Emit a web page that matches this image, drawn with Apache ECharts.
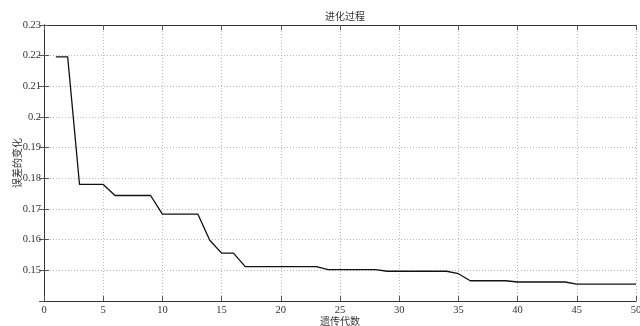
<!DOCTYPE html>
<html>
<head>
<meta charset="utf-8">
<script src="https://cdn.jsdelivr.net/npm/echarts@6/dist/echarts.min.js"></script>
<style>html,body{margin:0;padding:0;background:#fff}#c{width:640px;height:326px}</style>
</head>
<body>
<div id="c"></div>
<script>
const titleText = '进化过程';
const xName = '遗传代数';
const yName = '误差的变化';
const generations = [1,2,3,4,5,6,7,8,9,10,11,12,13,14,15,16,17,18,19,20,21,22,23,24,25,26,27,28,29,30,31,32,33,34,35,36,37,38,39,40,41,42,43,44,45,46,47,48,49,50];
const errorValues = [
  0.2196,0.2196,0.1780,0.1780,0.1780,0.1744,0.1744,0.1744,0.1744,0.1683,
  0.1683,0.1683,0.1683,0.1598,0.1556,0.1556,0.1512,0.1512,0.1512,0.1512,
  0.1512,0.1512,0.1512,0.1502,0.1502,0.1502,0.1502,0.1502,0.1497,0.1497,
  0.1497,0.1497,0.1497,0.1497,0.1489,0.1466,0.1466,0.1466,0.1466,0.1462,
  0.1462,0.1462,0.1462,0.1462,0.1455,0.1455,0.1455,0.1455,0.1455,0.1455
];
const xMin = 0, xMax = 50, xStep = 5;
const yMin = 0.14, yMax = 0.23, yStep = 0.01;

const serif = 'Liberation Serif';
const cjk = 'Noto Sans CJK SC';
const axisColor = '#333';

const chart = echarts.init(document.getElementById('c'), null, {renderer: 'canvas'});
const tickStyle = {show: true, inside: true, length: 5, lineStyle: {color: '#555', width: 1}};
const split = {show: true, lineStyle: {type: [1, 2], color: '#b8b8b8', width: 1}};
chart.setOption({
  animation: false,
  backgroundColor: '#fff',
  title: {
    text: titleText, left: 340, top: 6, textAlign: 'center',
    textStyle: {fontFamily: cjk, fontSize: 10, fontWeight: 'normal', color: '#333'}
  },
  grid: {left: 44, right: 4, top: 25, bottom: 25, containLabel: false, outerBoundsMode: 'none'},
  xAxis: [{
    type: 'value', min: xMin, max: xMax, interval: xStep,
    name: xName, nameLocation: 'middle', nameGap: 15, nameMoveOverlap: false,
    nameTextStyle: {fontFamily: cjk, fontSize: 10, color: '#333'},
    axisLine: {show: true, lineStyle: {color: axisColor, width: 1}},
    axisTick: tickStyle,
    axisLabel: {fontFamily: serif, fontSize: 10.5, color: '#333', margin: 4},
    splitLine: split
  }, {
    type: 'value', min: xMin, max: xMax, interval: xStep, position: 'top',
    axisLine: {show: true, lineStyle: {color: axisColor, width: 1}},
    axisTick: tickStyle, axisLabel: {show: false}, splitLine: {show: false}
  }],
  yAxis: [{
    type: 'value', min: yMin, max: yMax, interval: yStep,
    name: yName, nameLocation: 'middle', nameGap: 22, nameRotate: 90, nameMoveOverlap: false,
    nameTextStyle: {fontFamily: cjk, fontSize: 10, color: '#333'},
    axisLine: {show: true, lineStyle: {color: axisColor, width: 1}},
    axisTick: tickStyle,
    axisLabel: {fontFamily: serif, fontSize: 10.5, color: '#333', margin: 3, showMinLabel: false,
      formatter: v => String(+v.toFixed(2))},
    splitLine: split
  }, {
    type: 'value', min: yMin, max: yMax, interval: yStep, position: 'right',
    axisLine: {show: true, lineStyle: {color: axisColor, width: 1}},
    axisTick: tickStyle, axisLabel: {show: false}, splitLine: {show: false}
  }],
  series: [{
    type: 'line', xAxisIndex: 0, yAxisIndex: 0,
    data: generations.map((g, i) => [g, errorValues[i]]),
    showSymbol: false, symbol: 'none',
    lineStyle: {color: '#111', width: 1.3},
    silent: true
  }]
});
</script>
</body>
</html>
